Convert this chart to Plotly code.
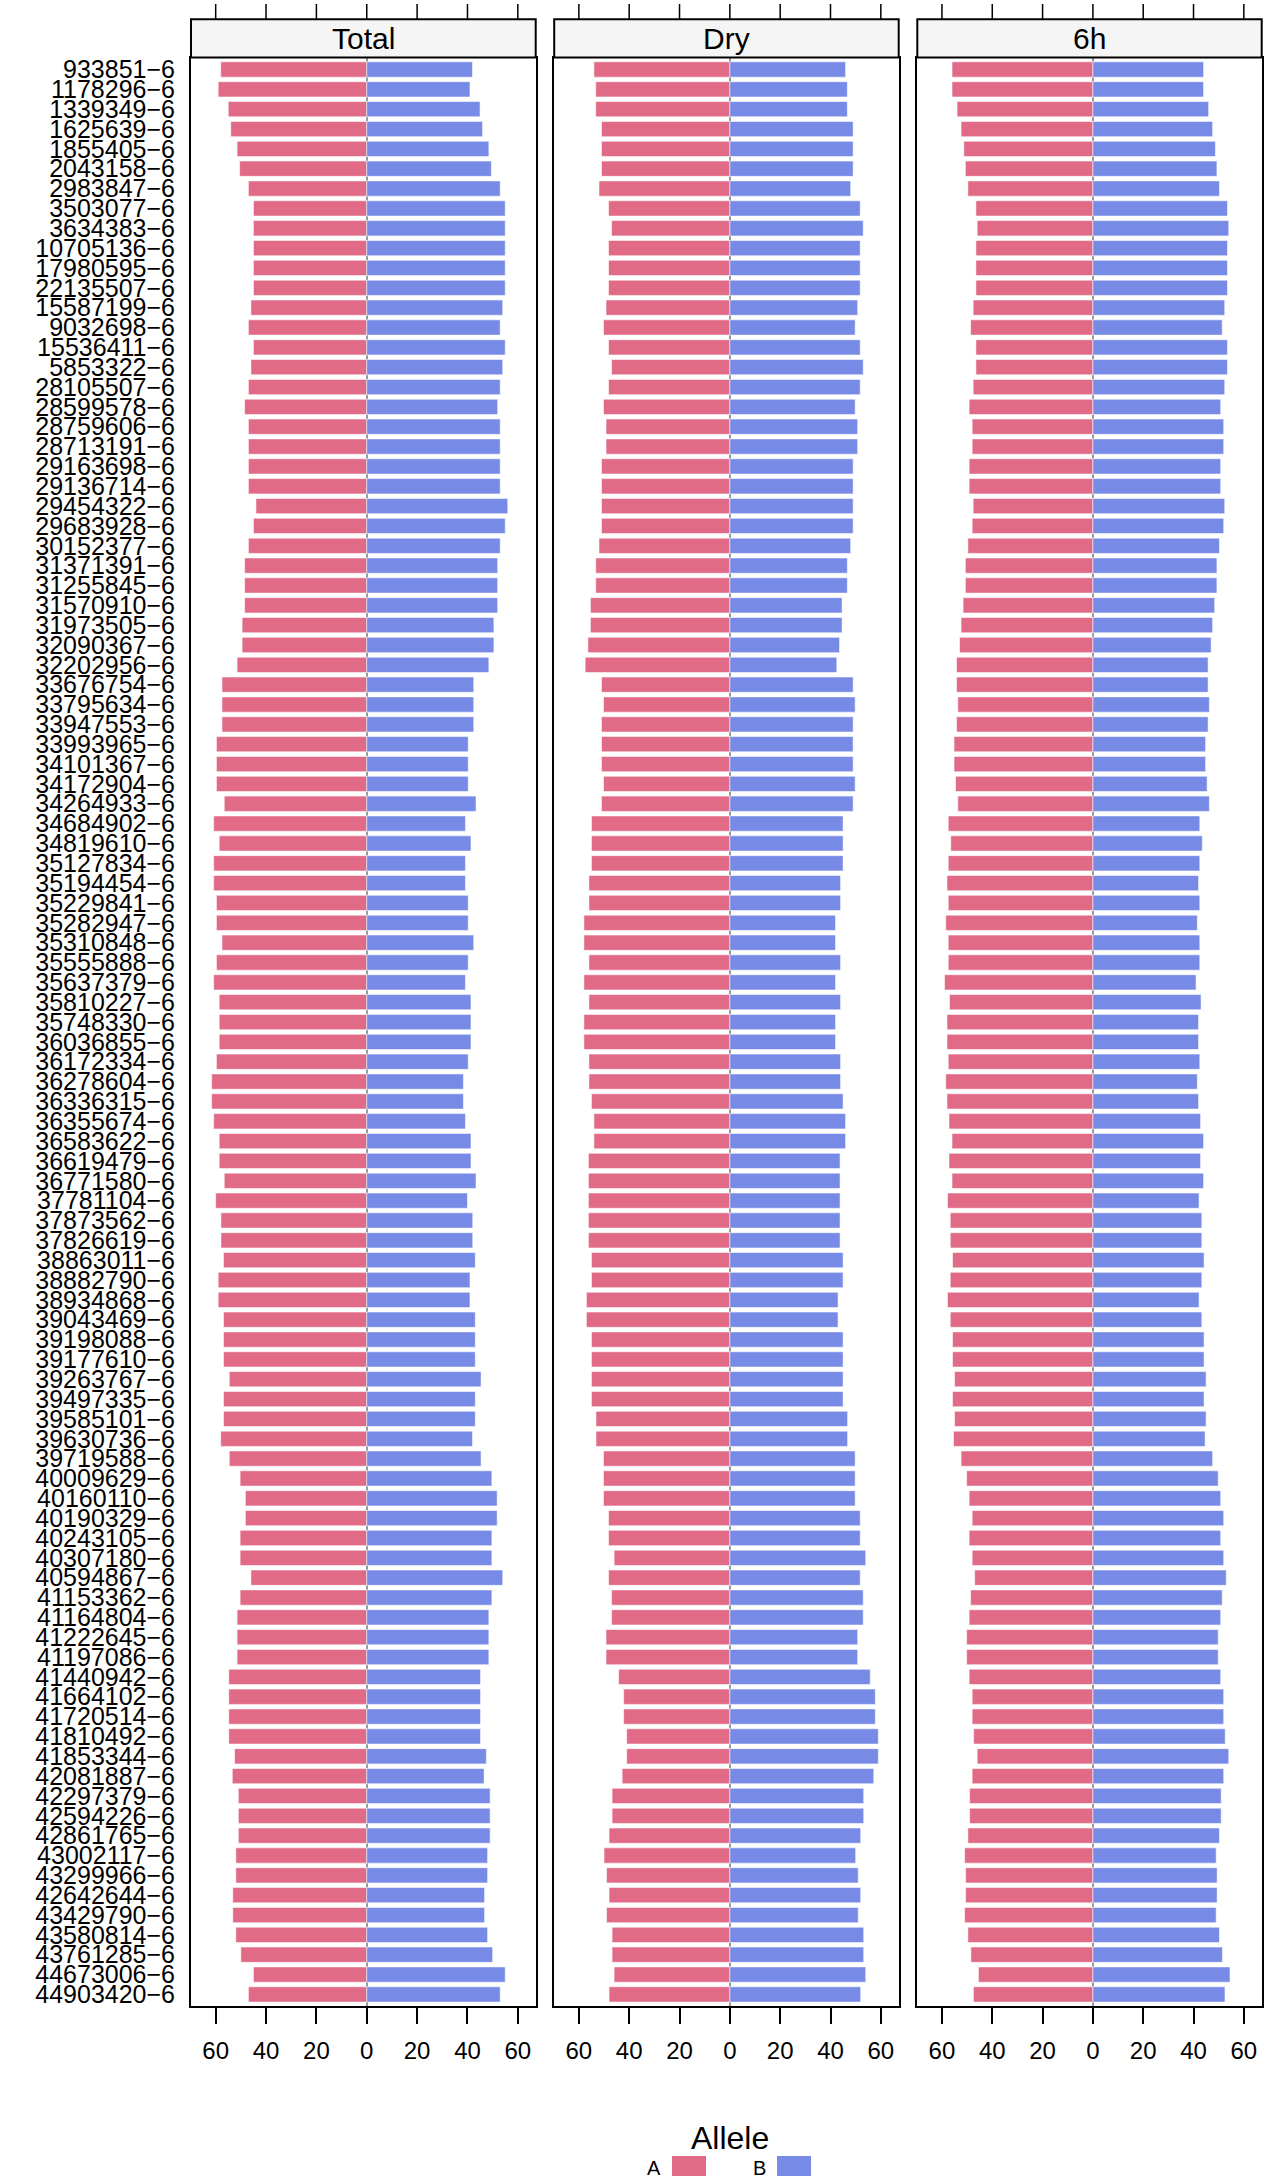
import plotly.graph_objects as go

# ---------------- data ----------------
marker_ids = [
    "933851-6", "1178296-6", "1339349-6", "1625639-6", "1855405-6", "2043158-6", "2983847-6",
    "3503077-6", "3634383-6", "10705136-6", "17980595-6", "22135507-6", "15587199-6", "9032698-6",
    "15536411-6", "5853322-6", "28105507-6", "28599578-6", "28759606-6", "28713191-6", "29163698-6",
    "29136714-6", "29454322-6", "29683928-6", "30152377-6", "31371391-6", "31255845-6", "31570910-6",
    "31973505-6", "32090367-6", "32202956-6", "33676754-6", "33795634-6", "33947553-6", "33993965-6",
    "34101367-6", "34172904-6", "34264933-6", "34684902-6", "34819610-6", "35127834-6", "35194454-6",
    "35229841-6", "35282947-6", "35310848-6", "35555888-6", "35637379-6", "35810227-6", "35748330-6",
    "36036855-6", "36172334-6", "36278604-6", "36336315-6", "36355674-6", "36583622-6", "36619479-6",
    "36771580-6", "37781104-6", "37873562-6", "37826619-6", "38863011-6", "38882790-6", "38934868-6",
    "39043469-6", "39198088-6", "39177610-6", "39263767-6", "39497335-6", "39585101-6", "39630736-6",
    "39719588-6", "40009629-6", "40160110-6", "40190329-6", "40243105-6", "40307180-6", "40594867-6",
    "41153362-6", "41164804-6", "41222645-6", "41197086-6", "41440942-6", "41664102-6", "41720514-6",
    "41810492-6", "41853344-6", "42081887-6", "42297379-6", "42594226-6", "42861765-6", "43002117-6",
    "43299966-6", "42642644-6", "43429790-6", "43580814-6", "43761285-6", "44673006-6", "44903420-6",
]

panels = ["Total", "Dry", "6h"]
alleles = ["A", "B"]

total_A = [58, 59, 55, 54, 51.5, 50.5, 47, 45, 45, 45, 45, 45, 46, 47, 45, 46, 47, 48.5, 47, 47,
           47, 47, 44, 45, 47, 48.5, 48.5, 48.5, 49.5, 49.5, 51.5, 57.5, 57.5, 57.5, 59.7, 59.7, 59.7, 56.6, 60.8, 58.6,
           60.8, 60.8, 59.7, 59.7, 57.5, 59.7, 60.8, 58.6, 58.6, 58.6, 59.7, 61.6, 61.6, 60.8, 58.6, 58.6, 56.6, 60, 57.9, 57.9,
           56.9, 59, 59, 56.9, 56.9, 56.9, 54.6, 56.9, 56.9, 58, 54.6, 50.3, 48.2, 48.2, 50.3, 50.3, 46, 50.3, 51.5, 51.5,
           51.5, 54.8, 54.8, 54.8, 54.8, 52.5, 53.4, 51, 51, 51, 52, 52, 53.2, 53.2, 52, 50, 45, 47]
total_B = [42, 41, 45, 46, 48.5, 49.5, 53, 55, 55, 55, 55, 55, 54, 53, 55, 54, 53, 52, 53, 53,
           53, 53, 56, 55, 53, 52, 52, 52, 50.5, 50.5, 48.5, 42.5, 42.5, 42.5, 40.3, 40.3, 40.3, 43.4, 39.2, 41.4,
           39.2, 39.2, 40.3, 40.3, 42.5, 40.3, 39.2, 41.4, 41.4, 41.4, 40.3, 38.4, 38.4, 39.2, 41.4, 41.4, 43.4, 40, 42.1, 42.1,
           43.1, 41, 41, 43.1, 43.1, 43.1, 45.4, 43.1, 43.1, 42, 45.4, 49.7, 51.8, 51.8, 49.7, 49.7, 54, 49.7, 48.5, 48.5,
           48.5, 45.2, 45.2, 45.2, 45.2, 47.5, 46.6, 49, 49, 49, 48, 48, 46.8, 46.8, 48, 50, 55, 53]

dry_A = [54, 53.3, 53.3, 51, 51, 51, 52, 48.2, 47, 48.2, 48.2, 48.2, 49.2, 50.2, 48.2, 47, 48.2, 50.2, 49.2, 49.2,
         51, 51, 51, 51, 52, 53.3, 53.3, 55.4, 55.4, 56.4, 57.5, 51, 50.2, 51, 51, 51, 50.2, 51, 55, 55,
         55, 56, 56, 58, 58, 56, 58, 56, 58, 58, 56, 56, 55, 54, 54, 56.2, 56.2, 56.2, 56.2, 56.2,
         55, 55, 57, 57, 55, 55, 55, 55, 53.2, 53.2, 50.2, 50.2, 50.2, 48.2, 48.2, 46, 48.2, 47, 47, 49.2,
         49.2, 44.2, 42.2, 42.2, 41, 41, 42.8, 46.8, 46.8, 48, 50, 49, 48, 49, 46.8, 46.8, 46, 48]
dry_B = [46, 46.7, 46.7, 49, 49, 49, 48, 51.8, 53, 51.8, 51.8, 51.8, 50.8, 49.8, 51.8, 53, 51.8, 49.8, 50.8, 50.8,
         49, 49, 49, 49, 48, 46.7, 46.7, 44.6, 44.6, 43.6, 42.5, 49, 49.8, 49, 49, 49, 49.8, 49, 45, 45,
         45, 44, 44, 42, 42, 44, 42, 44, 42, 42, 44, 44, 45, 46, 46, 43.8, 43.8, 43.8, 43.8, 43.8,
         45, 45, 43, 43, 45, 45, 45, 45, 46.8, 46.8, 49.8, 49.8, 49.8, 51.8, 51.8, 54, 51.8, 53, 53, 50.8,
         50.8, 55.8, 57.8, 57.8, 59, 59, 57.2, 53.2, 53.2, 52, 50, 51, 52, 51, 53.2, 53.2, 54, 52]

h6_A = [56, 56, 54, 52.4, 51.3, 50.7, 49.7, 46.5, 46, 46.5, 46.5, 46.5, 47.6, 48.6, 46.5, 46.5, 47.6, 49.2, 48, 48,
        49.2, 49.2, 47.6, 48, 49.7, 50.7, 50.7, 51.6, 52.4, 53, 54.2, 54.2, 53.7, 54.2, 55.2, 55.2, 54.6, 53.7, 57.5, 56.5,
        57.5, 58, 57.5, 58.5, 57.5, 57.5, 59, 57, 58, 58, 57.5, 58.5, 58, 57.2, 56, 57.2, 56, 57.8, 56.7, 56.7,
        55.8, 56.7, 57.8, 56.7, 55.8, 55.8, 55, 55.8, 55, 55.4, 52.4, 50.2, 49.2, 48, 49.2, 48, 47, 48.6, 49.2, 50.2,
        50.2, 49.2, 48, 48, 47.4, 46, 48, 49, 49, 49.7, 51, 50.6, 50.6, 51, 49.7, 48.5, 45.5, 47.5]
h6_B = [44, 44, 46, 47.6, 48.7, 49.3, 50.3, 53.5, 54, 53.5, 53.5, 53.5, 52.4, 51.4, 53.5, 53.5, 52.4, 50.8, 52, 52,
        50.8, 50.8, 52.4, 52, 50.3, 49.3, 49.3, 48.4, 47.6, 47, 45.8, 45.8, 46.3, 45.8, 44.8, 44.8, 45.4, 46.3, 42.5, 43.5,
        42.5, 42, 42.5, 41.5, 42.5, 42.5, 41, 43, 42, 42, 42.5, 41.5, 42, 42.8, 44, 42.8, 44, 42.2, 43.3, 43.3,
        44.2, 43.3, 42.2, 43.3, 44.2, 44.2, 45, 44.2, 45, 44.6, 47.6, 49.8, 50.8, 52, 50.8, 52, 53, 51.4, 50.8, 49.8,
        49.8, 50.8, 52, 52, 52.6, 54, 52, 51, 51, 50.3, 49, 49.4, 49.4, 49, 50.3, 51.5, 54.5, 52.5]

tick_vals = [-60, -40, -20, 0, 20, 40, 60]
tick_text = ["60", "40", "20", "0", "20", "40", "60"]

# ---------------- styling / layout ----------------
W, H = 1276, 2178
FONT = "Liberation Sans, Arial, Helvetica, sans-serif"
COL_A = "#E16A86"
COL_B = "#778BE6"
X_RANGE = [-69.8, 67.1]

def fx(px):
    return px / W

def fy(px):
    return 1 - px / H

panel_px = [(191.0, 535.7), (554.2, 898.7), (917.3, 1261.7)]
panel_top, panel_bot = 55.7, 2008.0
strip_top = 17.3

series = {"Total": (total_A, total_B), "Dry": (dry_A, dry_B), "6h": (h6_A, h6_B)}
display_labels = [s.replace("-", "\u2212") for s in marker_ids]
n = len(marker_ids)

fig = go.Figure()
for i, p in enumerate(panels):
    a_vals, b_vals = series[p]
    xa = "x" if i == 0 else f"x{i+1}"
    ya = "y" if i == 0 else f"y{i+1}"
    fig.add_trace(go.Bar(
        y=marker_ids, x=[-v for v in a_vals], orientation="h", name="A",
        marker=dict(color=COL_A, line=dict(color="rgba(255,255,255,0.55)", width=1)),
        customdata=a_vals, hovertemplate="%{y}<br>A: %{customdata}<extra>" + p + "</extra>",
        xaxis=xa, yaxis=ya, showlegend=False,
    ))
    fig.add_trace(go.Bar(
        y=marker_ids, x=b_vals, orientation="h", name="B",
        marker=dict(color=COL_B, line=dict(color="rgba(255,255,255,0.55)", width=1)),
        hovertemplate="%{y}<br>B: %{x}<extra>" + p + "</extra>",
        xaxis=xa, yaxis=ya, showlegend=False,
    ))

layout = dict(
    width=W, height=H,
    margin=dict(l=0, r=0, t=0, b=0),
    paper_bgcolor="white", plot_bgcolor="white",
    barmode="relative", bargap=0.23,
    font=dict(family=FONT, color="black", size=24),
    showlegend=False,
)

ydom = [fy(panel_bot), fy(panel_top)]
for i, p in enumerate(panels):
    sfx = "" if i == 0 else str(i + 1)
    x0, x1 = panel_px[i]
    layout["xaxis" + sfx] = dict(
        domain=[fx(x0), fx(x1)], range=X_RANGE, anchor="y" + sfx,
        tickmode="array", tickvals=tick_vals, ticktext=tick_text,
        ticks="outside", ticklen=16, tickwidth=1.5, tickcolor="black",
        tickfont=dict(size=24, family=FONT, color="black"), ticklabelstandoff=6,
        showline=True, mirror=True, linecolor="black", linewidth=2,
        showgrid=False, zeroline=True, zerolinecolor="#9a9a9a", zerolinewidth=1.5,
        layer="above traces", fixedrange=True,
    )
    ydict = dict(
        domain=ydom, anchor="x" + sfx, type="category",
        categoryorder="array", categoryarray=marker_ids,
        range=[n - 0.4, -0.6],
        showline=True, mirror=True, linecolor="black", linewidth=2,
        showgrid=False, zeroline=False, ticks="", fixedrange=True,
    )
    if i == 0:
        ydict.update(tickmode="array", tickvals=marker_ids, ticktext=display_labels,
                     tickfont=dict(size=25, family=FONT, color="black"),
                     ticklabelstandoff=9, showticklabels=True)
    else:
        ydict.update(showticklabels=False)
    layout["yaxis" + sfx] = ydict

shapes = []
annotations = []
for i, p in enumerate(panels):
    x0, x1 = panel_px[i]
    xa = "x" if i == 0 else f"x{i+1}"
    # strip
    shapes.append(dict(type="rect", xref="paper", yref="paper",
                       x0=fx(x0), x1=fx(x1), y0=fy(panel_top), y1=fy(strip_top),
                       fillcolor="#F5F5F5", line=dict(color="black", width=2), layer="above"))
    annotations.append(dict(text=p, xref="paper", yref="paper",
                            x=fx((x0 + x1) / 2), y=fy((panel_top + strip_top) / 2),
                            xanchor="center", yanchor="middle", showarrow=False,
                            font=dict(size=30, family=FONT, color="black")))
    # top ticks above strip
    for tv in tick_vals:
        shapes.append(dict(type="line", xref=xa, yref="paper", x0=tv, x1=tv,
                           y0=fy(strip_top), y1=fy(2.0),
                           line=dict(color="black", width=1.5)))

# legend (manual)
annotations.append(dict(text="Allele", xref="paper", yref="paper", x=fx(730), y=fy(2140),
                        xanchor="center", yanchor="middle", showarrow=False,
                        font=dict(size=32, family=FONT, color="black")))
legend_items = [("A", COL_A, 654, 672), ("B", COL_B, 759, 777)]
for lab, col, tx, rx in legend_items:
    annotations.append(dict(text=lab, xref="paper", yref="paper", x=fx(tx), y=fy(2170),
                            xanchor="center", yanchor="middle", showarrow=False,
                            font=dict(size=20, family=FONT, color="black")))
    shapes.append(dict(type="rect", xref="paper", yref="paper",
                       x0=fx(rx), x1=fx(rx + 34), y0=fy(2178), y1=fy(2158),
                       fillcolor=col, line=dict(color=col, width=0)))

layout["shapes"] = shapes
layout["annotations"] = annotations
fig.update_layout(**layout)

fig.write_html("out.html", config={"displayModeBar": False},
               post_script="document.body.style.margin='0px';document.body.style.overflow='hidden';")
